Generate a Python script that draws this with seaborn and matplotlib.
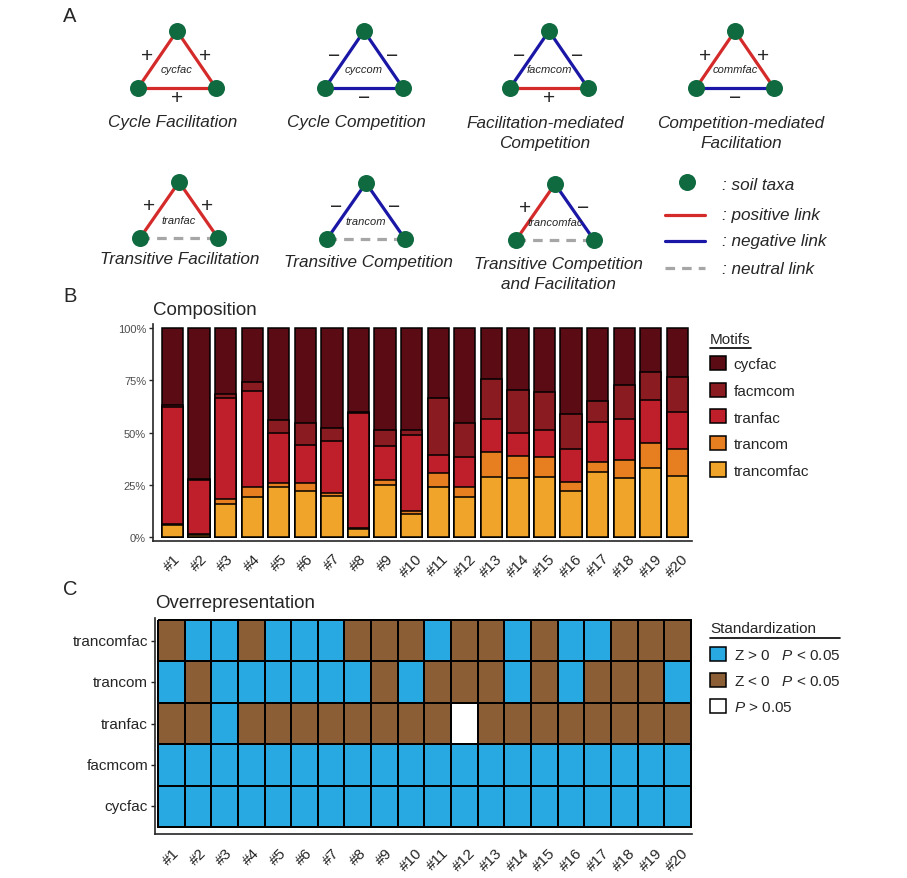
import numpy as np
import pandas as pd
import matplotlib
matplotlib.use('Agg')
import matplotlib.pyplot as plt
from matplotlib.colors import ListedColormap
from matplotlib.patches import Patch
import seaborn as sns

# ---------------- data ----------------
samples = ['#1', '#2', '#3', '#4', '#5', '#6', '#7', '#8', '#9', '#10',
           '#11', '#12', '#13', '#14', '#15', '#16', '#17', '#18', '#19', '#20']
motifs = ['cycfac', 'facmcom', 'tranfac', 'trancom', 'trancomfac']

# composition (% of motifs per sample)
cycfac = [37.0, 72.2, 31.4, 25.7, 44.2, 45.3, 47.7, 40.0, 48.6, 48.6,
          33.6, 45.3, 24.4, 29.7, 30.5, 41.0, 34.9, 27.3, 20.9, 23.3]
facmcom = [0.6, 0.5, 2.2, 4.3, 6.0, 10.5, 6.5, 0.5, 8.0, 2.4,
           27.4, 16.4, 19.3, 20.5, 18.4, 16.9, 10.0, 16.4, 13.7, 16.9]
tranfac = [56.1, 25.8, 48.2, 45.9, 23.8, 18.2, 24.6, 55.0, 16.1, 36.6,
           8.5, 14.2, 15.7, 11.2, 12.8, 15.6, 19.4, 19.3, 20.4, 17.7]
trancom = [0.4, 0.5, 2.4, 5.1, 2.2, 3.8, 1.6, 0.5, 2.4, 1.6,
           6.4, 4.8, 11.7, 10.5, 9.4, 4.5, 4.8, 8.9, 12.0, 12.8]
trancomfac = [5.9, 1.0, 15.8, 19.0, 23.8, 22.2, 19.6, 4.0, 24.9, 10.8,
              24.1, 19.3, 28.9, 28.1, 28.9, 22.0, 30.9, 28.1, 33.0, 29.3]

# overrepresentation: 1 = Z>0 P<0.05, -1 = Z<0 P<0.05, 0 = P>0.05
heat_rows = ['trancomfac', 'trancom', 'tranfac', 'facmcom', 'cycfac']
z_trancomfac = [-1, 1, 1, -1, 1, 1, 1, -1, -1, -1, 1, -1, -1, 1, -1, 1, 1, -1, -1, -1]
z_trancom = [1, -1, 1, 1, 1, 1, 1, 1, -1, 1, -1, -1, -1, 1, -1, 1, -1, -1, -1, 1]
z_tranfac = [-1, -1, 1, -1, -1, -1, -1, -1, -1, -1, -1, 0, -1, -1, -1, -1, -1, -1, -1, -1]
z_facmcom = [1, 1, 1, 1, 1, 1, 1, 1, 1, 1, 1, 1, 1, 1, 1, 1, 1, 1, 1, 1]
z_cycfac = [1, 1, 1, 1, 1, 1, 1, 1, 1, 1, 1, 1, 1, 1, 1, 1, 1, 1, 1, 1]

# motif schematics (panel A)
motif_names = ['cycfac', 'cyccom', 'facmcom', 'commfac', 'tranfac', 'trancom', 'trancomfac']
motif_titles = ['Cycle Facilitation', 'Cycle Competition',
                'Facilitation-mediated\nCompetition', 'Competition-mediated\nFacilitation',
                'Transitive Facilitation', 'Transitive Competition',
                'Transitive Competition\nand Facilitation']
# sign of left, right and bottom link
motif_links = [('+', '+', '+'), ('-', '-', '-'), ('-', '-', '+'), ('+', '+', '-'),
               ('+', '+', '0'), ('-', '-', '0'), ('+', '-', '0')]

# ---------------- style ----------------
sns.set_style('ticks')
plt.rcParams['font.family'] = ['Liberation Sans', 'DejaVu Sans']
plt.rcParams['mathtext.fontset'] = 'custom'
plt.rcParams['mathtext.rm'] = 'Liberation Sans'
plt.rcParams['mathtext.it'] = 'Liberation Sans:italic'

motif_colors = {'cycfac': '#5B0B13', 'facmcom': '#8A1B21', 'tranfac': '#BF1F2B',
                'trancom': '#E77F20', 'trancomfac': '#F1A42A'}
pos_col, neg_col, neu_col = '#D42A2A', '#1A16A6', '#A6A6A6'
node_col = '#0F6A40'
blue, brown = '#29A9E1', '#8C5E36'

W, H = 907, 879
fig = plt.figure(figsize=(W / 100, H / 100), dpi=100)


def box(l, t, r, b):
    return [l / W, 1 - b / H, (r - l) / W, (b - t) / H]


# ---------------- panel A (schematic, pixel coordinates) ----------------
ax_a = fig.add_axes([0, 0, 1, 1])
ax_a.set_xlim(0, W)
ax_a.set_ylim(H, 0)
ax_a.axis('off')

link_style = {'+': dict(color=pos_col, ls='-'), '-': dict(color=neg_col, ls='-'),
              '0': dict(color=neu_col, ls=(0, (3, 2.2)))}
sign_txt = {'+': '+', '-': '\u2212', '0': ''}


def draw_motif(x0, y0, h, links, name, title, tx, ty):
    top, left, right = (x0, y0), (x0 - 39, y0 + h), (x0 + 39, y0 + h)
    edges = [(left, top), (top, right), (left, right)]
    offs = [(-10, -4), (9, -4), (0, 10)]
    for (p, q), s, (dx, dy) in zip(edges, links, offs):
        ax_a.plot([p[0], q[0]], [p[1], q[1]], lw=2.3, zorder=2, **link_style[s])
        mx, my = (p[0] + q[0]) / 2 + dx, (p[1] + q[1]) / 2 + dy
        ax_a.text(mx, my, sign_txt[s], fontsize=15, ha='center', va='center')
    ax_a.scatter([top[0], left[0], right[0]], [top[1], left[1], right[1]],
                 s=150, color=node_col, zorder=3, linewidths=0)
    ax_a.text(x0, y0 + 0.67 * h, name, fontsize=8, style='italic', ha='center', va='center', zorder=4)
    ax_a.text(tx, ty, title, fontsize=12.3, style='italic', ha='center', va='center',
              linespacing=1.35)


tri_pos = [(177, 32, 57), (364, 32, 57), (549, 32, 57), (735, 32, 57),
           (179, 183, 56), (366, 184, 56), (555, 185, 56)]
title_pos = [(173, 123), (356, 123), (545, 133.5), (741, 133.5),
             (180, 260), (368, 263), (558, 274.5)]
for (x0, y0, h), links, name, title, (tx, ty) in zip(tri_pos, motif_links, motif_names,
                                                       motif_titles, title_pos):
    draw_motif(x0, y0, h, links, name, title, tx, ty)

# schematic legend
ax_a.scatter([687], [183], s=150, color=node_col, linewidths=0)
ax_a.plot([665, 705], [216, 216], lw=2.3, **link_style['+'])
ax_a.plot([665, 705], [242, 242], lw=2.3, **link_style['-'])
ax_a.plot([665, 705], [269, 269], lw=2.3, **link_style['0'])
for y, t in zip([186, 216, 242, 270], [': soil taxa', ': positive link', ': negative link', ': neutral link']):
    ax_a.text(722, y, t, fontsize=12.3, style='italic', ha='left', va='center')

# panel letters
for x, y, t in [(70, 16, 'A'), (70, 297, 'B'), (70, 590, 'C')]:
    ax_a.text(x, y, t, fontsize=14.5, ha='center', va='center')

# legend titles with underline
ax_a.text(710, 340, 'Motifs', fontsize=11, ha='left', va='center')
ax_a.plot([710, 751], [348.5, 348.5], color='black', lw=1.2)
ax_a.text(710, 629, 'Standardization', fontsize=11, ha='left', va='center')
ax_a.plot([710, 840], [639, 639], color='black', lw=1.2)

# ---------------- panel B: composition ----------------
ax_b = fig.add_axes(box(153, 325, 692, 542))
comp = pd.DataFrame({'sample': samples, 'cycfac': cycfac, 'facmcom': facmcom,
                     'tranfac': tranfac, 'trancom': trancom, 'trancomfac': trancomfac})
cum = comp[motifs[::-1]].cumsum(axis=1)
for m in motifs:
    sns.barplot(x=comp['sample'], y=cum[m], color=motif_colors[m], width=0.8,
                saturation=1, edgecolor='black', linewidth=1.1, errorbar=None, ax=ax_b)
ax_b.set_xlim(-0.73, 19.55)
ax_b.set_ylim(-1.9, 101.9)
ax_b.set_yticks([0, 25, 50, 75, 100])
ax_b.set_yticklabels(['0%', '25%', '50%', '75%', '100%'])
ax_b.set_xlabel('')
ax_b.set_ylabel('')
ax_b.set_title('Composition', loc='left', fontsize=13.5, pad=7)
sns.despine(ax=ax_b)
for s in ['left', 'bottom']:
    ax_b.spines[s].set_linewidth(1.2)
ax_b.tick_params(axis='y', length=3, width=1, labelsize=8, labelcolor='#4D4D4D', pad=2)
ax_b.tick_params(axis='x', length=0, labelsize=11, pad=7)
plt.setp(ax_b.get_xticklabels(), rotation=45, ha='center')

handles_b = [Patch(facecolor=motif_colors[m], edgecolor='black', lw=1.1, label=m) for m in motifs]
ax_b.legend(handles=handles_b, loc='upper left', bbox_to_anchor=(710 / W, 1 - 357 / H),
            bbox_transform=fig.transFigure, frameon=False, fontsize=11, borderpad=0,
            handlelength=1.05, handleheight=1.05, labelspacing=0.74, handletextpad=0.5,
            borderaxespad=0)

# ---------------- panel C: overrepresentation ----------------
ax_c = fig.add_axes(box(155, 619, 692, 835))
over = pd.DataFrame([z_trancomfac, z_trancom, z_tranfac, z_facmcom, z_cycfac],
                    index=heat_rows, columns=samples)
sns.heatmap(over, cmap=ListedColormap([brown, 'white', blue]), vmin=-1.5, vmax=1.5,
            linewidths=1.4, linecolor='black', cbar=False, ax=ax_c)
ax_c.set_xlim(-0.11, 20.04)
ax_c.set_ylim(5.17, -0.05)
for s in ['left', 'bottom']:
    ax_c.spines[s].set_visible(True)
    ax_c.spines[s].set_linewidth(1.2)
ax_c.set_title('Overrepresentation', loc='left', fontsize=13.5, pad=8)
ax_c.tick_params(axis='y', length=3, width=1, labelsize=11, rotation=0, pad=2)
ax_c.tick_params(axis='x', length=0, labelsize=11, pad=8)
plt.setp(ax_c.get_xticklabels(), rotation=45, ha='center')

handles_c = [Patch(facecolor=blue, edgecolor='black', lw=1.1, label='Z > 0   $P$ < 0.05'),
             Patch(facecolor=brown, edgecolor='black', lw=1.1, label='Z < 0   $P$ < 0.05'),
             Patch(facecolor='white', edgecolor='black', lw=1.1, label='$P$ > 0.05')]
ax_c.legend(handles=handles_c, loc='upper left', bbox_to_anchor=(710 / W, 1 - 648 / H),
            bbox_transform=fig.transFigure, frameon=False, fontsize=11, borderpad=0,
            handlelength=1.05, handleheight=1.05, labelspacing=0.7, handletextpad=0.5,
            borderaxespad=0)

fig.savefig('out.png', dpi=100)
